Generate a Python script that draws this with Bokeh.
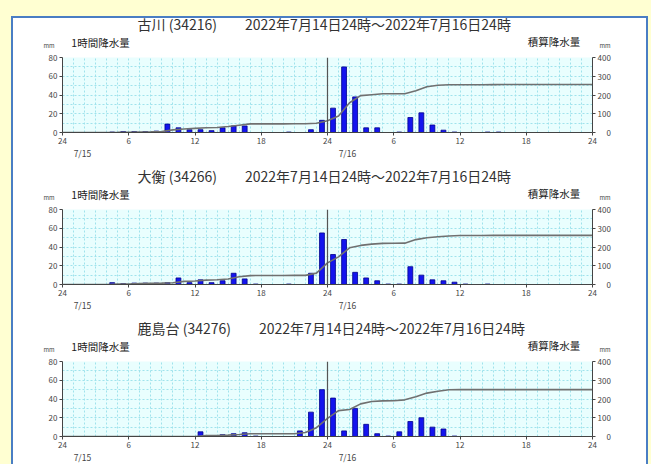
import numpy as np
from bokeh.plotting import figure
from bokeh.models import Range1d, LinearAxis, FixedTicker, SingleIntervalTicker, Span, Label
from bokeh.layouts import column
from bokeh.embed import file_html
from bokeh.resources import INLINE

# ---------------- data ----------------
hours = list(range(1, 49))          # hour-ending index, 7/15 01時 .. 7/16 24時
x_tick_hours = [0, 6, 12, 18, 24, 30, 36, 42, 48]
x_tick_labels = ["24", "6", "12", "18", "24", "6", "12", "18", "24"]
date_hours = [0, 24]
date_labels = ["7/15", "7/16"]
left_ticks = [0, 20, 40, 60, 80]
right_ticks = [0, 100, 200, 300, 400]

period = "2022年7月14日24時～2022年7月16日24時"
stations = ["古川 (34216)", "大衡 (34266)", "鹿島台 (34276)"]
left_title = "1時間降水量"
right_title = "積算降水量"
unit = "mm"

rain_furukawa = [0, 0, 0, 0, 0.5, 1, 1, 1, 1.5, 9, 5, 3,
                 3, 2, 5, 7, 7, 0, 0, 0, 0.5, 0, 3, 13,
                 26, 70, 38, 5, 5, 0, 0.5, 16, 21, 8, 2.5, 0.5,
                 0, 0, 0.5, 0.5, 0, 0, 0, 0, 0, 0, 0, 0]
rain_ohira = [0, 0, 0, 0, 2, 1, 1.5, 1.5, 1.5, 2, 7, 2,
              5, 2, 4, 12, 6, 0.5, 0, 0, 0.5, 0, 12, 55,
              32, 48, 13, 7, 4, 0.5, 0.5, 19, 10, 5, 4, 2.5,
              0.5, 0, 0.5, 0, 0, 0, 0, 0, 0, 0, 0, 0]
rain_kashimadai = [0, 0, 0, 0, 0, 0, 0, 0, 0, 0, 0, 0,
                   5, 0.5, 2, 3, 4, 0.5, 0, 0, 0, 6, 26, 50,
                   41, 6, 30, 13, 3, 0.5, 5, 16, 20, 10, 8, 0.5,
                   0, 0, 0, 0, 0, 0, 0, 0, 0, 0, 0, 0]
series = [rain_furukawa, rain_ohira, rain_kashimadai]

JP = "Noto Sans CJK JP"
TXT = "#333333"
GRID = "#9FE3EC"

W = 633
B_LEFT, B_RIGHT = 49, 54
HEAD_H = 33      # net height of the text strip
OVERLAP = 8      # strip reaches this far up over the edge above it (transparent)


def lbl(**kw):
    return Label(text_font=JP, text_baseline="middle", **kw)


def make_header(station):
    # transparent text strip above each chart; same hour scale as the chart below it
    hh = HEAD_H + OVERLAP
    h = figure(width=W, height=hh, output_backend="svg", toolbar_location=None,
               x_range=Range1d(0, 48), y_range=Range1d(0, hh),
               x_axis_location=None, y_axis_location=None,
               min_border_left=B_LEFT, min_border_right=B_RIGHT,
               min_border_top=0, min_border_bottom=0,
               outline_line_color=None, background_fill_color=None,
               border_fill_color=None, margin=(-OVERLAP, 0, 0, 0))
    h.grid.visible = False
    # unit marks above the two value axes
    for side, standoff in (("left", 8), ("right", 7)):
        ua = LinearAxis(ticker=FixedTicker(ticks=[3]), major_label_overrides={3: unit})
        ua.axis_line_color = None
        ua.major_tick_line_color = None
        ua.minor_tick_line_color = None
        ua.major_tick_out = 0
        ua.major_tick_in = 0
        ua.major_label_standoff = standoff
        ua.major_label_text_font = JP
        ua.major_label_text_font_size = "6px"
        ua.major_label_text_color = "#444444"
        h.add_layout(ua, side)
    h.add_layout(lbl(x=6.8, y=27.5, text=station + "\u3000\u3000" + period,
                     text_font_size="14px", text_color=TXT, text_align="left"))
    h.add_layout(lbl(x=0.8, y=9, text=left_title,
                     text_font_size="10.5px", text_color="#222222", text_align="left"))
    h.add_layout(lbl(x=46.9, y=10, text=right_title,
                     text_font_size="10.5px", text_color="#222222", text_align="right"))
    return h


def make_panel(rain):
    p = figure(width=W, height=152 - HEAD_H, x_range=Range1d(0, 48), y_range=Range1d(0, 80),
               output_backend="svg", toolbar_location=None,
               min_border_left=B_LEFT, min_border_right=B_RIGHT,
               min_border_top=6, min_border_bottom=38,
               background_fill_color="#E9FEFE", border_fill_color="white",
               outline_line_color=None)
    p.extra_y_ranges = {"cum": Range1d(0, 400)}
    p.extra_x_ranges = {"date": Range1d(-1.8, 46.2)}

    # grid
    p.xgrid.ticker = SingleIntervalTicker(interval=1)
    p.ygrid.ticker = SingleIntervalTicker(interval=10)
    p.grid.grid_line_color = GRID
    p.grid.grid_line_dash = "2 2"
    p.grid.grid_line_width = 1

    # axes
    p.xaxis.ticker = FixedTicker(ticks=x_tick_hours)
    p.xaxis.major_label_overrides = {h: t for h, t in zip(x_tick_hours, x_tick_labels)}
    p.yaxis.ticker = FixedTicker(ticks=left_ticks)
    ra = LinearAxis(y_range_name="cum", ticker=FixedTicker(ticks=right_ticks))
    ra.major_label_overrides = {v: ("\u2007" * (3 - len(str(v)))) + str(v) for v in right_ticks}
    p.add_layout(ra, "right")
    for ax in p.axis:
        ax.axis_line_color = "#444444"
        ax.axis_line_width = 1
        ax.major_tick_line_color = "#444444"
        ax.major_tick_out = 3
        ax.major_tick_in = 0
        ax.minor_tick_line_color = None
        ax.major_label_text_font = JP
        ax.major_label_text_font_size = "8px"
        ax.major_label_text_color = "#444444"
        ax.major_label_standoff = 2

    # date row under the hour labels
    da = LinearAxis(x_range_name="date", ticker=FixedTicker(ticks=date_hours))
    da.major_label_overrides = {h: t for h, t in zip(date_hours, date_labels)}
    da.axis_line_color = None
    da.major_tick_line_color = None
    da.minor_tick_line_color = None
    da.major_tick_out = 0
    da.major_label_standoff = 0
    da.major_label_text_font = JP
    da.major_label_text_font_size = "8.5px"
    da.major_label_text_color = "#444444"
    p.add_layout(da, "below")

    # bars (hourly rain, centred in their hour)
    p.vbar(x=[h - 0.5 for h in hours], top=rain, width=0.44,
           fill_color="#1414EE", line_color="#00008C", line_width=0.8)

    # cumulative rain line
    cum = np.concatenate([[0.0], np.cumsum(rain)])
    p.line(x=list(range(0, 49)), y=cum, y_range_name="cum",
           line_color="#707070", line_width=1.6)

    p.add_layout(Span(location=24, dimension="height", line_color="#555555", line_width=1.2))
    return p


blocks = []
for s, r in zip(stations, series):
    blocks.append(make_header(s))
    blocks.append(make_panel(r))

box = column(*blocks, spacing=0, styles={"background-color": "white",
                                         "border": "2px solid #4A7EC4",
                                         "border-bottom": "none"})
page = column(box, styles={"background-color": "#FFFFD2",
                           "padding": "16px 0 0 11px",
                           "width": "651px", "height": "464px",
                           "overflow": "hidden", "box-sizing": "border-box"})

open("out.html", "w").write(file_html(page, INLINE))
